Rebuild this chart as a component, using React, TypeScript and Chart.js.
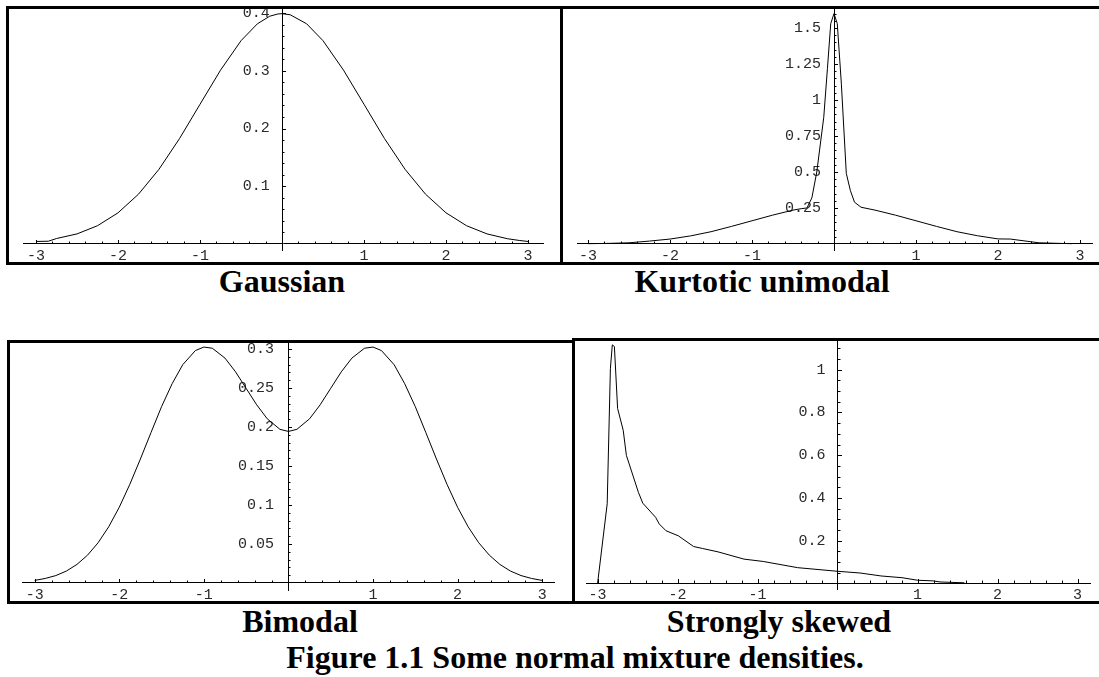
import React, { useEffect, useRef } from 'react';
import { Chart, registerables } from 'chart.js';

Chart.register(...registerables);

// ---------- data ----------
const xTickValues = [-3, -2, -1, 1, 2, 3];
const xTickLabels = ['-3', '-2', '-1', '1', '2', '3'];

const gaussX = [-3, -2.85, -2.75, -2.5, -2.25, -2, -1.75, -1.5, -1.25, -1, -0.75, -0.5, -0.3, -0.15, -0.05, 0, 0.1, 0.3, 0.5, 0.75, 1, 1.25, 1.5, 1.75, 2, 2.25, 2.5, 2.75, 2.9, 3];
const gaussY = [0.0044, 0.0048, 0.0095, 0.0175, 0.0317, 0.054, 0.0863, 0.1295, 0.1826, 0.242, 0.3011, 0.3521, 0.3814, 0.3945, 0.3984, 0.3989, 0.397, 0.3814, 0.3521, 0.3011, 0.242, 0.1826, 0.1295, 0.0863, 0.054, 0.0317, 0.0175, 0.0091, 0.006, 0.0044];
const gaussYTicks = [0.1, 0.2, 0.3, 0.4];
const gaussYLabels = ['0.1', '0.2', '0.3', '0.4'];

const kurtX = [-3, -2.75, -2.5, -2.25, -2, -1.75, -1.5, -1.25, -1, -0.75, -0.5, -0.4, -0.33, -0.27, -0.21, -0.125, -0.08, -0.04, 0, 0.04, 0.09, 0.15, 0.2, 0.25, 0.33, 0.5, 0.75, 1, 1.25, 1.5, 1.75, 2, 2.15, 2.5, 2.75, 2.9];
const kurtY = [0.002, 0.004, 0.008, 0.02, 0.034, 0.056, 0.085, 0.122, 0.161, 0.2, 0.235, 0.245, 0.25, 0.32, 0.5, 0.88, 1.22, 1.53, 1.6, 1.53, 1.11, 0.49, 0.37, 0.29, 0.255, 0.235, 0.2, 0.161, 0.122, 0.085, 0.057, 0.035, 0.034, 0.008, 0.004, 0.002];
const kurtYTicks = [0.25, 0.5, 0.75, 1, 1.25, 1.5];
const kurtYLabels = ['0.25', '0.5', '0.75', '1', '1.25', '1.5'];

const bimodX = [-3, -2.875, -2.75, -2.625, -2.5, -2.375, -2.25, -2.125, -2, -1.875, -1.75, -1.625, -1.5, -1.375, -1.25, -1.1, -1, -0.9, -0.75, -0.625, -0.5, -0.375, -0.25, -0.1, 0, 0.1, 0.25, 0.375, 0.5, 0.625, 0.75, 0.9, 1, 1.1, 1.25, 1.375, 1.5, 1.625, 1.75, 1.875, 2, 2.125, 2.25, 2.375, 2.5, 2.625, 2.75, 2.875, 3];
const bimodY = [0.0033, 0.0058, 0.0095, 0.0153, 0.0238, 0.0357, 0.0516, 0.072, 0.0971, 0.1265, 0.159, 0.1928, 0.2261, 0.2555, 0.2798, 0.298, 0.3025, 0.301, 0.2883, 0.2707, 0.2496, 0.2284, 0.2105, 0.197, 0.1943, 0.197, 0.2105, 0.2284, 0.2496, 0.2707, 0.2883, 0.301, 0.3025, 0.298, 0.2798, 0.2555, 0.2261, 0.1928, 0.159, 0.1265, 0.0971, 0.072, 0.0516, 0.0357, 0.0238, 0.0153, 0.0095, 0.0058, 0.0033];
const bimodYTicks = [0.05, 0.1, 0.15, 0.2, 0.25, 0.3];
const bimodYLabels = ['0.05', '0.1', '0.15', '0.2', '0.25', '0.3'];

const skewX = [-3.0, -2.88, -2.84, -2.816, -2.79, -2.75, -2.68, -2.64, -2.49, -2.435, -2.275, -2.23, -2.145, -1.99, -1.8, -1.69, -1.495, -1.17, -0.93, -0.5, 0, 0.28, 0.545, 0.805, 1.0, 1.195, 1.28, 1.585];
const skewY = [0, 0.372, 1.007, 1.117, 1.109, 0.819, 0.717, 0.599, 0.426, 0.375, 0.309, 0.278, 0.246, 0.222, 0.172, 0.163, 0.147, 0.113, 0.102, 0.073, 0.056, 0.048, 0.034, 0.026, 0.014, 0.011, 0.006, 0.002];
const skewYTicks = [0.2, 0.4, 0.6, 0.8, 1];
const skewYLabels = ['0.2', '0.4', '0.6', '0.8', '1'];

const panelTitles = ['Gaussian', 'Kurtotic unimodal', 'Bimodal', 'Strongly skewed'];
const figureCaption = 'Figure 1.1 Some normal mixture densities.';

// ---------- drawing helpers ----------
const minorTicksPlugin = {
  id: 'minorTicks',
  afterDraw(chart: any, _args: any, opts: any) {
    const { ctx } = chart;
    const xs = chart.scales.x;
    const ys = chart.scales.y;
    const x0 = Math.round(xs.getPixelForValue(0));
    const y0 = Math.round(ys.getPixelForValue(0));
    ctx.save();
    ctx.strokeStyle = '#000';
    ctx.lineWidth = 1;
    ctx.beginPath();
    const xStep = opts.xStep;
    for (let i = Math.ceil(xs.min / xStep); i * xStep <= xs.max + 1e-9; i++) {
      if (i === 0) continue;
      const major = i % opts.xMajorEvery === 0;
      const px = Math.round(xs.getPixelForValue(i * xStep)) + 0.5;
      const len = major ? 4 : 2.5;
      ctx.moveTo(px, y0);
      ctx.lineTo(px, y0 - len);
    }
    const yStep = opts.yStep;
    for (let i = 1; i * yStep <= ys.max + 1e-9; i++) {
      const major = i % opts.yMajorEvery === 0;
      const py = Math.round(ys.getPixelForValue(i * yStep)) + 0.5;
      const len = major ? 4 : 2.5;
      ctx.moveTo(x0, py);
      ctx.lineTo(x0 + len, py);
    }
    ctx.stroke();
    ctx.restore();
  },
};

type PanelProps = {
  xs: number[];
  ys: number[];
  yTicks: number[];
  yLabels: string[];
  left: number;
  top: number;
  width: number;
  height: number;
  pad: { left: number; right: number; top: number; bottom: number };
  xMin: number;
  xMax: number;
  yMin: number;
  yMax: number;
  yStep: number;
  yMajorEvery: number;
  labelGap: number;
};

const tickFont = { family: '"Liberation Mono", "Courier New", monospace', size: 15 };
const tickColor = '#2a2a2a';

function Panel(p: PanelProps) {
  const ref = useRef<HTMLCanvasElement>(null);
  const cw = p.width - 6;
  const ch = p.height - 6;
  useEffect(() => {
    const data = p.xs.map((x, i) => ({ x, y: p.ys[i] }));
    const chart = new Chart(ref.current as HTMLCanvasElement, {
      type: 'line',
      data: {
        datasets: [
          {
            data,
            borderColor: '#000',
            borderWidth: 1,
            pointRadius: 0,
            tension: 0,
            fill: false,
            yAxisID: 'y',
          },
        ],
      },
      options: {
        animation: false,
        responsive: false,
        maintainAspectRatio: false,
        devicePixelRatio: 1,
        events: [],
        layout: { padding: p.pad },
        plugins: {
          legend: { display: false },
          tooltip: { enabled: false },
          minorTicks: { xStep: 0.2, xMajorEvery: 5, yStep: p.yStep, yMajorEvery: p.yMajorEvery },
        } as any,
        scales: {
          x: {
            type: 'linear',
            min: p.xMin,
            max: p.xMax,
            position: { y: 0 } as any,
            grid: { display: false, drawTicks: false, tickLength: 0 },
            border: { display: true, color: '#000', width: 1 },
            afterBuildTicks: (s: any) => {
              s.ticks = xTickValues.map((v) => ({ value: v }));
            },
            afterFit: (s: any) => {
              s.paddingLeft = 0;
              s.paddingRight = 0;
            },
            ticks: {
              autoSkip: false,
              maxRotation: 0,
              includeBounds: false,
              padding: 3,
              color: tickColor,
              font: tickFont,
              callback: (_v: any, i: number) => xTickLabels[i],
            },
          },
          // axis line of the vertical axis
          y: {
            type: 'linear',
            min: p.yMin,
            max: p.yMax,
            position: { x: 0 } as any,
            grid: { display: false, drawTicks: false, tickLength: 0 },
            border: { display: true, color: '#000', width: 1 },
            afterBuildTicks: (s: any) => {
              s.ticks = p.yTicks.map((v) => ({ value: v }));
            },
            afterFit: (s: any) => {
              s.paddingTop = 0;
              s.paddingBottom = 0;
            },
            ticks: { display: false },
          },
          // tick labels of the vertical axis, set a little left of the axis line
          yLabels: {
            type: 'linear',
            min: p.yMin,
            max: p.yMax,
            position: { x: -p.labelGap } as any,
            grid: { display: false, drawTicks: false, tickLength: 0 },
            border: { display: false },
            afterBuildTicks: (s: any) => {
              s.ticks = p.yTicks.map((v) => ({ value: v }));
            },
            afterFit: (s: any) => {
              s.paddingTop = 0;
              s.paddingBottom = 0;
            },
            ticks: {
              autoSkip: false,
              includeBounds: false,
              padding: 0,
              color: tickColor,
              font: tickFont,
              callback: (_v: any, i: number) => p.yLabels[i],
            },
          },
        },
      },
      plugins: [minorTicksPlugin as any],
    });
    return () => chart.destroy();
  }, []);
  return (
    <div
      style={{
        position: 'absolute',
        left: p.left,
        top: p.top,
        width: p.width,
        height: p.height,
        border: '3px solid #000',
        boxSizing: 'border-box',
        overflow: 'hidden',
        background: '#fff',
      }}
    >
      <canvas ref={ref} width={cw} height={ch} style={{ display: 'block', width: cw, height: ch }} />
    </div>
  );
}

const titleStyle = (cx: number, top: number): React.CSSProperties => ({
  position: 'absolute',
  left: cx - 350,
  width: 700,
  top,
  textAlign: 'center',
  fontFamily: '"Liberation Serif", "Times New Roman", serif',
  fontWeight: 'bold',
  fontSize: 32,
  lineHeight: '32px',
  color: '#000',
  whiteSpace: 'nowrap',
});

export default function App() {
  return (
    <div
      style={{
        position: 'absolute',
        left: 0,
        top: 0,
        width: 1099,
        height: 677,
        background: '#fff',
        overflow: 'hidden',
      }}
    >
      <Panel
        xs={gaussX}
        ys={gaussY}
        yTicks={gaussYTicks}
        yLabels={gaussYLabels}
        left={6}
        top={6}
        width={557}
        height={259}
        pad={{ left: 14, right: 17, top: 0, bottom: 12 }}
        xMin={-3.159}
        xMax={3.183}
        yMin={-0.0104}
        yMax={0.407}
        yStep={0.02}
        yMajorEvery={5}
        labelGap={0.15}
      />
      <Panel
        xs={kurtX}
        ys={kurtY}
        yTicks={kurtYTicks}
        yLabels={kurtYLabels}
        left={560}
        top={6}
        width={560}
        height={259}
        pad={{ left: 14, right: 25, top: 0, bottom: 12 }}
        xMin={-3.135}
        xMax={3.147}
        yMin={-0.042}
        yMax={1.632}
        yStep={0.05}
        yMajorEvery={5}
        labelGap={0.16}
      />
      <Panel
        xs={bimodX}
        ys={bimodY}
        yTicks={bimodYTicks}
        yLabels={bimodYLabels}
        left={7}
        top={340}
        width={568}
        height={264}
        pad={{ left: 12, right: 18, top: 0, bottom: 11 }}
        xMin={-3.15}
        xMax={3.14}
        yMin={-0.009}
        yMax={0.3077}
        yStep={0.01}
        yMajorEvery={5}
        labelGap={0.17}
      />
      <Panel
        xs={skewX}
        ys={skewY}
        yTicks={skewYTicks}
        yLabels={skewYLabels}
        left={572}
        top={338}
        width={560}
        height={266}
        pad={{ left: 11, right: 39, top: 0, bottom: 12 }}
        xMin={-3.145}
        xMax={3.155}
        yMin={-0.027}
        yMax={1.135}
        yStep={0.05}
        yMajorEvery={4}
        labelGap={0.15}
      />
      <div style={titleStyle(282, 265)}>{panelTitles[0]}</div>
      <div style={titleStyle(762, 265)}>{panelTitles[1]}</div>
      <div style={titleStyle(300, 605)}>{panelTitles[2]}</div>
      <div style={titleStyle(779, 605)}>{panelTitles[3]}</div>
      <div style={titleStyle(575, 641)}>{figureCaption}</div>
    </div>
  );
}
